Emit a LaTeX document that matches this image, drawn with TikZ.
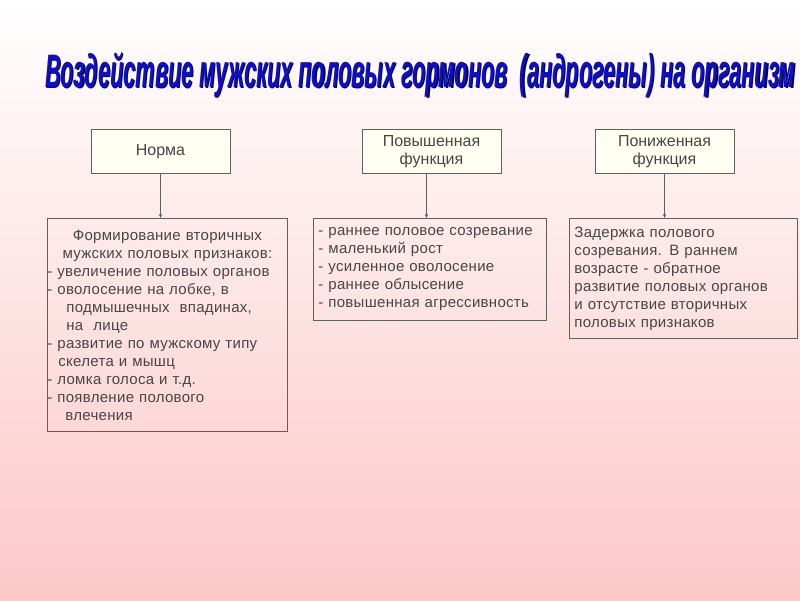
\documentclass[tikz,border=0pt]{standalone}
\usepackage{fontspec}
\setmainfont{Liberation Sans}
\newfontfamily\listface[LetterSpace=2]{Liberation Sans}
\usetikzlibrary{arrows.meta,positioning}
\definecolor{txtgray}{RGB}{70,70,70}
\definecolor{edgegray}{RGB}{95,95,95}
\definecolor{bgpink}{RGB}{252,200,200}
\definecolor{boxcream}{RGB}{255,255,242}
\definecolor{titleblue}{RGB}{15,15,200}
\definecolor{titleshadow}{RGB}{0,0,70}
\newcommand{\bodyfont}{\listface\fontsize{15pt}{18pt}\selectfont}
\newcommand{\headfont}{\fontsize{16pt}{18.4pt}\selectfont}
\newcommand{\maintitle}{\resizebox{750pt}{\height}{Воздействие мужских половых гормонов~~(андрогены) на организм}}

\begin{document}
\begin{tikzpicture}[x=1pt,y=-1pt,
  headbox/.style={draw=edgegray,fill=boxcream,line width=0.8pt,minimum width=139pt,
    minimum height=44pt,align=center,text=txtgray,font=\headfont,inner sep=2pt},
  listbox/.style={draw=edgegray,line width=0.8pt,anchor=north west,text=txtgray,
    font=\bodyfont,align=left,inner ysep=0pt},
  conn/.style={draw=edgegray,line width=0.8pt,-{Stealth[length=4pt,width=3.5pt]}},
  titletext/.style={anchor=base,font=\fontsize{47pt}{50pt}\selectfont\bfseries\itshape}]
  \useasboundingbox (0,0) rectangle (800,600);
  \shade[top color=white,bottom color=bgpink] (0,0) rectangle (800,600);

  \node[titletext,text=titleshadow] (titleshade) at (421.2,88.2) {\maintitle};
  \node[titletext,text=titleblue] (title) at (420,87) {\maintitle};

  \node[headbox] (norm) at (160.5,151.5) {Норма};
  \node[headbox] (high) at (431.5,151.5) {Повышенная\\функция};
  \node[headbox] (low) at (664.5,151.5) {Пониженная\\функция};

  \node[listbox,text width=240pt,inner xsep=0pt,minimum height=213pt] (normbox) at (47,218)
    {{\centering Формирование вторичных\\мужских половых признаков:\par}
     - увеличение половых органов\\
     - оволосение на лобке, в\\
     \hspace*{19pt}подмышечных~~впадинах,\\
     \hspace*{19pt}на~~лице\\
     - развитие по мужскому типу\\
     \hspace*{11pt}скелета и мышц\\
     - ломка голоса и т.д.\\
     - появление полового\\
     \hspace*{18pt}влечения};
  \node[listbox,text width=223pt,inner xsep=5pt,minimum height=102pt] (highbox) at (313,218)
    {- раннее половое созревание\\
     - маленький рост\\
     - усиленное оволосение\\
     - раннее облысение\\
     - повышенная агрессивность};
  \node[listbox,text width=218pt,inner xsep=5pt,minimum height=120pt] (lowbox) at (569,218)
    {Задержка полового\\
     созревания. В раннем\\
     возрасте - обратное\\
     развитие половых органов\\
     и отсутствие вторичных\\
     половых признаков};

  \draw[conn] (norm.south) -- (norm.south |- normbox.north);
  \draw[conn] ([xshift=-5pt]high.south) -- ([xshift=-5pt]high.south |- highbox.north);
  \draw[conn] (low.south) -- (low.south |- lowbox.north);
\end{tikzpicture}
\end{document}
